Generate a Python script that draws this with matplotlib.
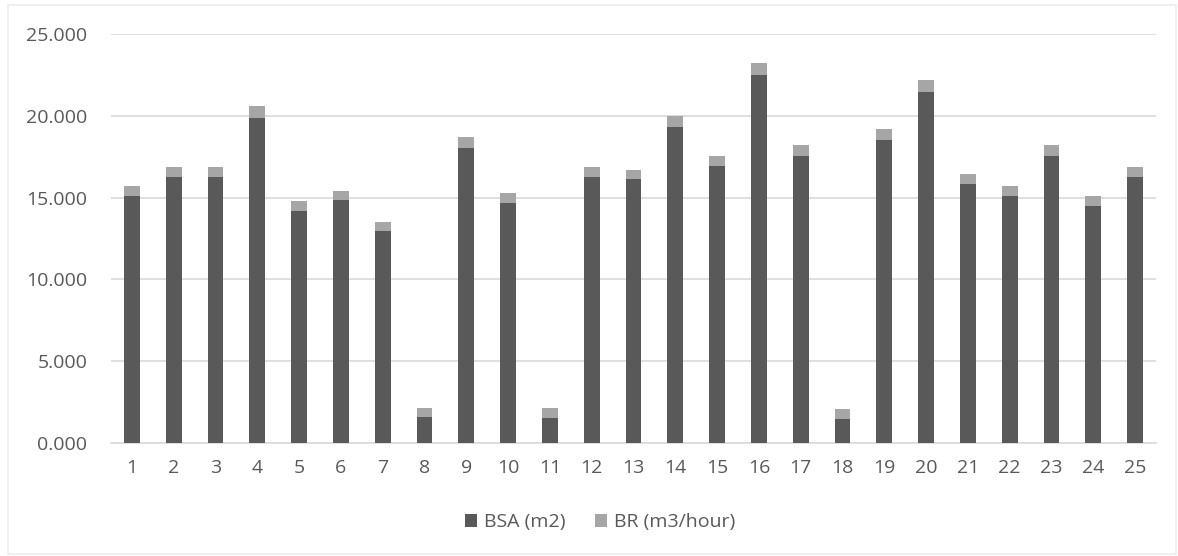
import matplotlib
matplotlib.use("Agg")
import matplotlib.pyplot as plt
from matplotlib.patches import Rectangle
import numpy as np

categories = [str(i) for i in range(1, 26)]
bsa = [15.12, 16.24, 16.24, 19.90, 14.20, 14.86, 12.96, 1.59, 18.06, 14.69,
       1.49, 16.24, 16.12, 19.35, 16.96, 22.51, 17.55, 1.43, 18.53, 21.49,
       15.84, 15.12, 17.55, 14.51, 16.24]
br = [0.61, 0.66, 0.66, 0.71, 0.56, 0.57, 0.53, 0.51, 0.65, 0.58,
      0.61, 0.66, 0.59, 0.67, 0.59, 0.76, 0.65, 0.61, 0.69, 0.71,
      0.61, 0.61, 0.65, 0.59, 0.66]
y_ticks = [0, 5, 10, 15, 20, 25]

dark = "#595959"
light = "#a6a6a6"
text_col = "#595959"
grid_col = "#d9d9d9"

plt.rcParams["font.family"] = ["Open Sans", "DejaVu Sans"]

fig = plt.figure(figsize=(11.78, 5.56), dpi=100)
fig.patch.set_facecolor("white")
ax = fig.add_axes([111 / 1178, 1 - 442.5 / 556, 1045 / 1178, (442.5 - 34.3) / 556])

x = np.arange(1, len(categories) + 1)
width = 0.38
ax.bar(x, bsa, width, color=dark, label="BSA (m2)", zorder=3)
ax.bar(x, br, width, bottom=bsa, color=light, label="BR (m3/hour)", zorder=3)

ax.set_xlim(0.5, len(categories) + 0.5)
ax.set_ylim(0, 25)
ax.set_yticks(y_ticks)
ax.set_yticklabels([f"{v:.3f}" for v in y_ticks])
ax.set_xticks(x)
ax.set_xticklabels(categories)
ax.grid(axis="y", color=grid_col, linewidth=1.2, zorder=0)
for s in ["top", "right", "left"]:
    ax.spines[s].set_visible(False)
ax.spines["bottom"].set_color(grid_col)
ax.spines["bottom"].set_linewidth(1.2)
ax.tick_params(axis="both", length=0, labelsize=14, colors=text_col)
ax.tick_params(axis="y", pad=17)
ax.tick_params(axis="x", pad=12)

leg = fig.legend(loc="center", bbox_to_anchor=(0.5 + 11 / 1178, 1 - 522 / 556), ncol=2,
                 frameon=False, fontsize=14, labelcolor=text_col,
                 handlelength=0.65, handleheight=0.65, handletextpad=0.35,
                 columnspacing=1.5)

# chart frame
fig.patches.append(Rectangle((8 / 1178, 2 / 556), 1168 / 1178, 549 / 556,
                             transform=fig.transFigure, fill=False,
                             edgecolor="#ececec", linewidth=1.2))

fig.savefig("out.png", dpi=100, facecolor="white")
